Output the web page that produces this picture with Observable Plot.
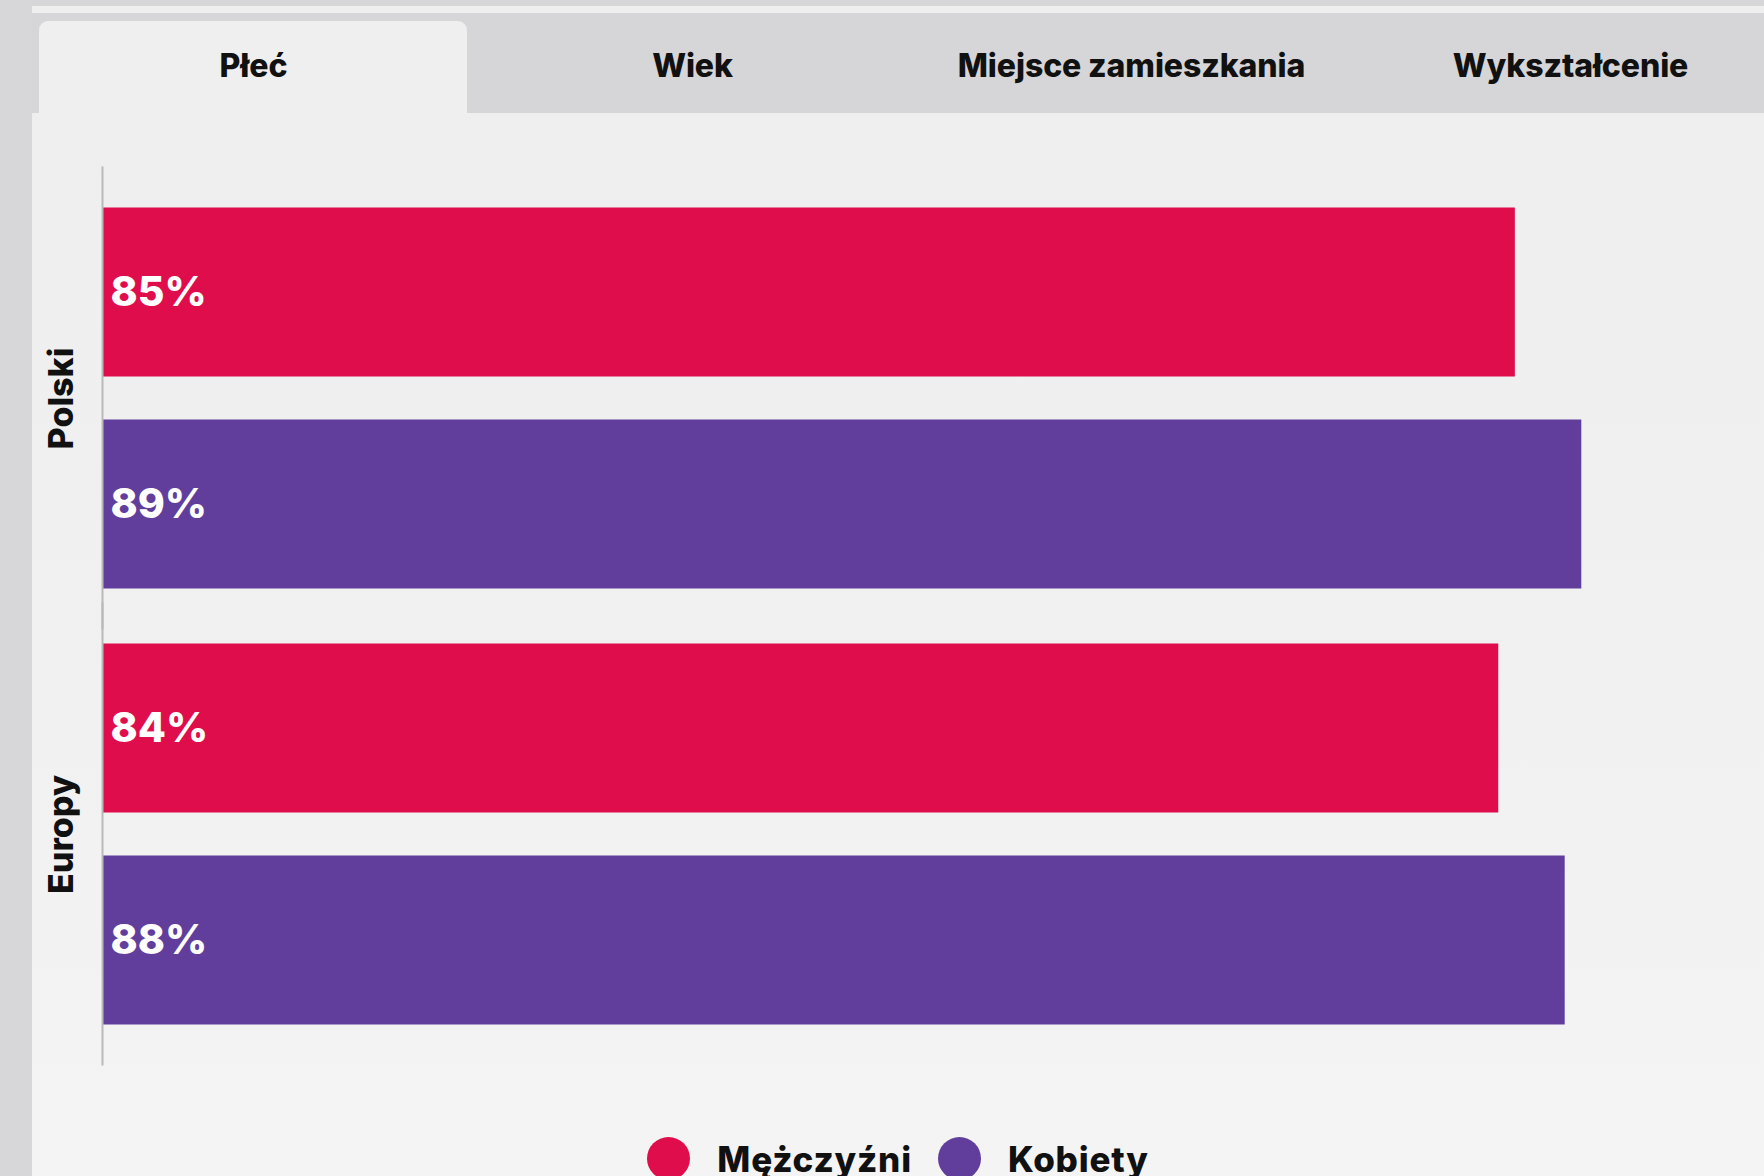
<!DOCTYPE html>
<html>
<head>
<meta charset="utf-8">
<script src="https://cdn.jsdelivr.net/npm/d3@7"></script>
<script src="https://cdn.jsdelivr.net/npm/@observablehq/plot@0.6"></script>
<style>
  html, body { margin: 0; padding: 0; }
  body {
    width: 1764px; height: 1176px; overflow: hidden; position: relative;
    background: #d7d7d9; font-family: Inter, "Noto Sans", sans-serif;
  }
  #panel {
    position: absolute; left: 32px; top: 6px; right: 0; bottom: 0;
    background: linear-gradient(180deg, #eeeeef 0%, #f0f0f1 45%, #f4f4f5 100%);
  }
  #tabbar {
    position: absolute; left: 32px; top: 13px; width: 1732px; height: 100px;
    background: #d6d6d8;
  }
  #activebg {
    position: absolute; left: 7px; width: 428px; top: 8px; bottom: 0;
    background: #efeff0; border-radius: 9px 9px 0 0;
  }
  .tab {
    position: absolute; top: 0; height: 100px; width: 439px;
    display: flex; align-items: center; justify-content: center;
    font-size: 32px; font-weight: 800; color: #111; letter-spacing: -0.1px;
  }
  .tab span { position: relative; top: 2px; }
  #chart { position: absolute; left: 0; top: 120px; }
  #legend {
    position: absolute; left: 32px; right: 0; top: 1137px;
    display: flex; justify-content: center; align-items: center;
  }
  .sw { display: flex; align-items: center; margin: 0 13px; }
  .dot { width: 43px; height: 43px; border-radius: 50%; margin-right: 27px; }
  .lab { font-size: 35px; font-weight: 800; color: #111; letter-spacing: 0.8px; }
</style>
</head>
<body>
<div id="panel"></div>
<div id="tabbar"><div id="activebg"></div></div>
<div id="chart"></div>
<div id="legend"></div>
<script>
// ---- data ----
const tabs = ["Płeć", "Wiek", "Miejsce zamieszkania", "Wykształcenie"];
const groups = ["Polski", "Europy"];
const genders = ["Mężczyźni", "Kobiety"];
const polskiValues = [85, 89];
const europyValues = [84, 88];
const colors = ["#df0d4b", "#613d9c"];

// ---- tabs ----
const bar = document.getElementById("tabbar");
tabs.forEach((t, i) => {
  const d = document.createElement("div");
  d.className = "tab";
  d.style.left = (2 + i * 439) + "px";
  const s = document.createElement("span");
  s.textContent = t;
  d.appendChild(s);
  bar.appendChild(d);
});

// ---- rows ----
const valuesByGroup = {Polski: polskiValues, Europy: europyValues};
const rows = [];
groups.forEach(g => genders.forEach((s, i) => rows.push({group: g, gender: s, value: valuesByGroup[g][i]})));

const chart = Plot.plot({
  width: 1764,
  height: 960,
  marginLeft: 103,
  marginRight: 0,
  marginTop: 59.5,
  marginBottom: 27.5,
  style: {background: "transparent", fontFamily: "Inter, 'Noto Sans', sans-serif", overflow: "visible"},
  facet: {data: rows, y: "group"},
  fy: {domain: groups, axis: null, padding: 0, label: null},
  x: {domain: [0, 100], axis: null},
  y: {domain: genders, axis: null, paddingInner: 0.2019, paddingOuter: 0.1256, label: null},
  color: {domain: genders, range: colors},
  marks: [
    Plot.barX(rows, {x: "value", y: "gender", fill: "gender"}),
    Plot.text(rows, {
      x: 0, y: "gender", text: d => d.value + "%",
      textAnchor: "start", dx: 7, fill: "white",
      fontSize: 41, fontWeight: 800
    }),
    Plot.text(rows, {
      filter: d => d.gender === genders[0],
      frameAnchor: "left", textAnchor: "middle", text: "group", rotate: -90, dx: -41,
      fontSize: 34, fontWeight: 800, fill: "#111"
    }),
    Plot.ruleX([0], {stroke: "#b9b9bb", strokeWidth: 2, dx: -1, insetTop: -13.5, insetBottom: -13.5})
  ]
});
document.getElementById("chart").appendChild(chart);

// ---- legend ----
const leg = document.getElementById("legend");
genders.forEach((g, i) => {
  const sw = document.createElement("div");
  sw.className = "sw";
  const dot = document.createElement("div");
  dot.className = "dot";
  dot.style.background = colors[i];
  const lab = document.createElement("div");
  lab.className = "lab";
  lab.textContent = g;
  sw.appendChild(dot); sw.appendChild(lab);
  leg.appendChild(sw);
});
</script>
</body>
</html>
